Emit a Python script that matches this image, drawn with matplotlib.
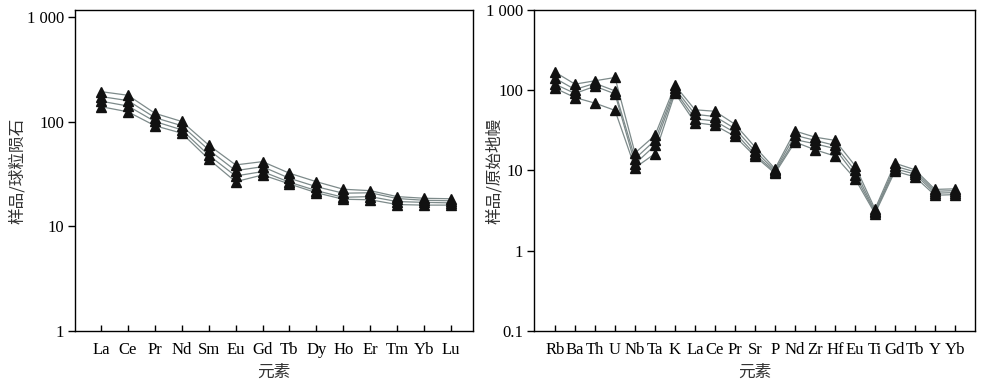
import matplotlib
matplotlib.use('Agg')
import matplotlib.pyplot as plt
from matplotlib.ticker import FixedLocator, FixedFormatter, NullLocator

# REE, chondrite normalised (4 samples)
ree = ['La', 'Ce', 'Pr', 'Nd', 'Sm', 'Eu', 'Gd', 'Tb', 'Dy', 'Ho', 'Er', 'Tm', 'Yb', 'Lu']
ree_s1 = [195, 180, 121, 101, 60, 38.8, 41.7, 32.3, 26.8, 22.7, 22.0, 19.3, 18.6, 18.4]
ree_s2 = [175, 160, 110, 92, 54, 34.2, 37.3, 28.9, 24.0, 20.8, 21.0, 18.5, 17.8, 17.6]
ree_s3 = [158, 142, 101, 84, 48, 30.4, 33.5, 26.5, 22.0, 19.0, 19.3, 17.3, 17.0, 16.8]
ree_s4 = [140, 125, 92, 78, 44, 26.8, 31.1, 25.5, 21.0, 18.2, 18.0, 16.2, 16.0, 16.0]

# trace elements, primitive mantle normalised
trace = ['Rb', 'Ba', 'Th', 'U', 'Nb', 'Ta', 'K', 'La', 'Ce', 'Pr', 'Sr', 'P', 'Nd',
         'Zr', 'Hf', 'Eu', 'Ti', 'Gd', 'Tb', 'Y', 'Yb']
tr_s1 = [168, 119, 131, 144, 16.5, 27.4, 115, 57, 54.6, 37.6, 19.6, 10.5, 31.0,
         26.0, 23.7, 11.5, 3.3, 12.3, 10.2, 5.8, 5.9]
tr_s2 = [141, 102, 122, 98, 14.0, 23.7, 105, 50, 47.0, 33.2, 17.4, 10.0, 27.4,
         23.7, 20.5, 10.0, 3.1, 11.3, 9.6, 5.5, 5.6]
tr_s3 = [119, 91, 112, 90, 12.1, 20.5, 98, 44, 41.3, 29.6, 15.8, 9.6, 24.2,
         21.5, 18.7, 8.8, 3.0, 10.5, 9.0, 5.2, 5.3]
tr_s4 = [106, 81, 69, 56, 10.8, 16.2, 92, 39.5, 36.5, 26.6, 15.0, 9.2, 22.6,
         18.1, 15.1, 7.9, 2.9, 9.8, 8.3, 4.9, 5.0]

serif = ['Liberation Serif', 'DejaVu Serif']
cjk = ['Noto Sans CJK SC', 'DejaVu Sans']
line_c = '#7d8a8a'
mark_c = '#111111'


def draw(ax, names, series, ylim, yticks, ylabels, xlim, ylabel, label_x):
    x = list(range(len(names)))
    for s in series:
        ax.plot(x, s, color=line_c, lw=0.9, zorder=2)
    for s in series:
        ax.plot(x, s, ls='none', marker='^', ms=7, color=mark_c,
                mec=mark_c, zorder=3)
    ax.set_yscale('log')
    ax.set_ylim(*ylim)
    ax.set_xlim(*xlim)
    ax.yaxis.set_major_locator(FixedLocator(yticks))
    ax.yaxis.set_major_formatter(FixedFormatter(ylabels))
    ax.yaxis.set_minor_locator(NullLocator())
    ax.set_xticks(x)
    ax.set_xticklabels(names)
    ax.tick_params(axis='y', direction='out', length=5, width=1, pad=3)
    ax.tick_params(axis='x', direction='in', length=4, width=1, pad=8)
    for lab in ax.get_xticklabels() + ax.get_yticklabels():
        lab.set_family(serif)
        lab.set_fontsize(12)
    for sp in ax.spines.values():
        sp.set_linewidth(1.0)
    ax.set_xlabel('元素', family=cjk, fontsize=12, color='#333333', labelpad=4)
    ax.set_ylabel(ylabel, family=cjk, fontsize=12, color='#333333')
    # label sits close to the axis, as in the source figure
    ax.yaxis.set_label_coords(label_x, 0.5)


fig = plt.figure(figsize=(10, 3.83), dpi=100)
ax1 = fig.add_axes([0.075, 0.136, 0.398, 0.838])
ax2 = fig.add_axes([0.534, 0.136, 0.441, 0.838])

draw(ax1, ree, [ree_s1, ree_s2, ree_s3, ree_s4], (1, 1180),
     [1, 10, 100, 1000], ['1', '10', '100', '1 000'], (-0.97, 13.82),
     '样品/球粒陨石', -0.123)
draw(ax2, trace, [tr_s1, tr_s2, tr_s3, tr_s4], (0.1, 1000),
     [0.1, 1, 10, 100, 1000], ['0.1', '1', '10', '100', '1 000'], (-1.05, 21.0),
     '样品/原始地幔', -0.070)

fig.savefig('out.png', dpi=100)
